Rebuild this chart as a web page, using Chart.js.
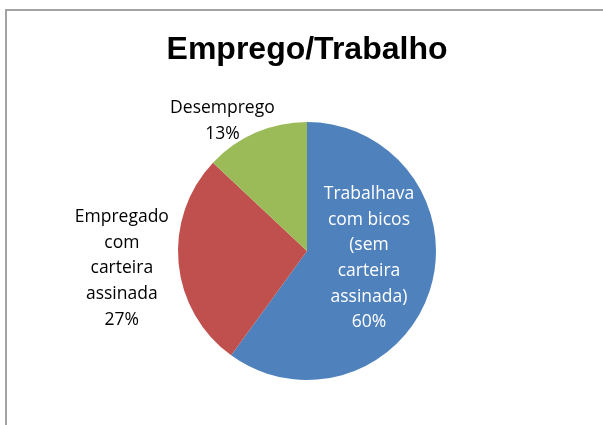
<!DOCTYPE html>
<html>
<head>
<meta charset="utf-8">
<script src="https://cdn.jsdelivr.net/npm/chart.js@4"></script>
<style>
  html, body { margin: 0; padding: 0; background: #fff; overflow: hidden; }
  #wrap { position: relative; width: 603px; height: 425px; }
  #frame { position: absolute; left: 5px; top: 9px; width: 700px; height: 500px;
           border-left: 2px solid #a3a3a3; border-top: 2px solid #a3a3a3; }
  canvas { position: absolute; left: 0; top: 0; }
</style>
</head>
<body>
<div id="wrap">
  <div id="frame"></div>
  <canvas id="pieChart" width="603" height="425"></canvas>
</div>
<script>
var labels = [["Trabalhava", "com bicos", "(sem", "carteira", "assinada)"],
              ["Empregado", "com", "carteira", "assinada"],
              ["Desemprego"]];
var values = [60, 27, 13];
var colors = ["#4F81BD", "#C0504D", "#9BBB59"];

// where each label sits: distance from centre along the slice middle, plus a nudge
var labelPos = [
  { dist: 62, dx: 3, dy: -12, color: "#fff" },
  { dist: 186, dx: 0, dy: 0, color: "#000" },
  { dist: 145, dx: -27, dy: 3, color: "#000" }
];

var sliceLabels = {
  id: 'sliceLabels',
  afterDatasetsDraw: function (chart) {
    var ctx = chart.ctx;
    var meta = chart.getDatasetMeta(0);
    var total = values.reduce(function (a, b) { return a + b; }, 0);
    ctx.save();
    ctx.font = "17.5px 'Open Sans'";
    ctx.textAlign = 'center';
    ctx.textBaseline = 'middle';
    meta.data.forEach(function (arc, i) {
      var mid = (arc.startAngle + arc.endAngle) / 2;
      var p = labelPos[i];
      var x = arc.x + Math.cos(mid) * p.dist + p.dx;
      var y = arc.y + Math.sin(mid) * p.dist + p.dy;
      var lines = labels[i].concat([Math.round(values[i] / total * 100) + "%"]);
      var lh = 25.7;
      var y0 = y - (lines.length - 1) * lh / 2;
      ctx.fillStyle = p.color;
      lines.forEach(function (t, j) {
        ctx.fillText(t, x, y0 + j * lh);
      });
    });
    ctx.restore();
  }
};

var ctxP = document.getElementById("pieChart").getContext('2d');
var myPieChart = new Chart(ctxP, {
  type: 'pie',
  data: {
    labels: labels,
    datasets: [{
      data: values,
      backgroundColor: colors,
      borderWidth: 0,
      hoverOffset: 0,
      radius: 129
    }]
  },
  options: {
    responsive: false,
    animation: false,
    layout: { padding: { top: 0, bottom: 45, left: 100, right: 89 } },
    plugins: {
      legend: { display: false },
      tooltip: { enabled: false },
      title: {
        display: true,
        text: "Emprego/Trabalho",
        color: "#000",
        font: { family: "'Liberation Sans', Arial", size: 32, weight: 'bold', lineHeight: 1.2 },
        padding: { top: 31, bottom: 52.6 }
      }
    }
  },
  plugins: [sliceLabels]
});
</script>
</body>
</html>
